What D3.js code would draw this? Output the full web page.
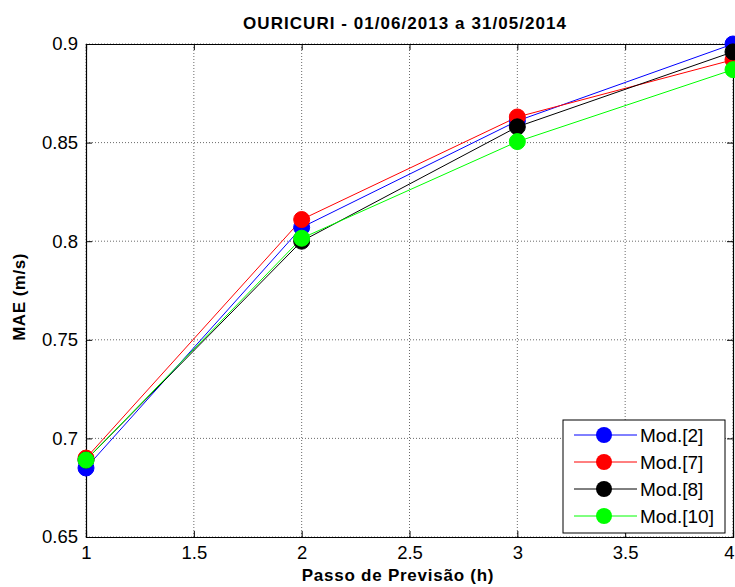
<!DOCTYPE html>
<html><head><meta charset="utf-8">
<script src="https://cdn.jsdelivr.net/npm/d3@7"></script>
<style>body{margin:0;background:#fff}svg{display:block}</style>
</head><body>
<svg id="c" width="735" height="587"></svg>
<script>
const steps = [1, 2, 3, 4];
const seriesNames = ["Mod.[2]", "Mod.[7]", "Mod.[8]", "Mod.[10]"];
const seriesColors = ["#0000ff", "#ff0000", "#000000", "#00ff00"];
const mod2 = [0.685, 0.807, 0.861, 0.900];
const mod7 = [0.690, 0.811, 0.863, 0.892];
const mod8 = [0.689, 0.800, 0.858, 0.896];
const mod10 = [0.689, 0.8015, 0.8505, 0.887];
const xTicks = [1, 1.5, 2, 2.5, 3, 3.5, 4];
const yTicks = [0.65, 0.7, 0.75, 0.8, 0.85, 0.9];
const seriesValues = [mod2, mod7, mod8, mod10];

const svg = d3.select("#c");
const L = 86, R = 733, T = 44, B = 537;
const x = d3.scaleLinear().domain([1, 4]).range([L, R]);
const y = d3.scaleLinear().domain([0.65, 0.9]).range([B, T]);
const font = "'Liberation Sans', Arial, sans-serif";

// grid
const g = svg.append("g");
xTicks.forEach(t => {
  g.append("line").attr("x1", x(t)).attr("x2", x(t)).attr("y1", T).attr("y2", B)
   .attr("stroke", "#444").attr("stroke-width", 0.8).attr("stroke-dasharray", "1,2");
});
yTicks.forEach(t => {
  g.append("line").attr("x1", L).attr("x2", R).attr("y1", y(t)).attr("y2", y(t))
   .attr("stroke", "#444").attr("stroke-width", 0.8).attr("stroke-dasharray", "1,2");
});

// axes
const xAxis = d3.axisBottom(x).tickValues(xTicks).tickSize(-6).tickPadding(9).tickFormat(d3.format("~g"));
const yAxis = d3.axisLeft(y).tickValues(yTicks).tickSize(-6).tickPadding(8).tickFormat(d3.format("~g"));
const xa = svg.append("g").attr("transform", `translate(0,${B})`).call(xAxis);
const ya = svg.append("g").attr("transform", `translate(${L},0)`).call(yAxis);
const xt = svg.append("g").attr("transform", `translate(0,${T})`).call(d3.axisTop(x).tickValues(xTicks).tickSize(-6).tickFormat(""));
const yr = svg.append("g").attr("transform", `translate(${R},0)`).call(d3.axisRight(y).tickValues(yTicks).tickSize(-6).tickFormat(""));
[xa, ya, xt, yr].forEach(a => {
  a.select(".domain").attr("stroke", "#000").attr("stroke-width", 1.2);
  a.selectAll(".tick line").attr("stroke", "#000");
  a.selectAll("text").attr("font-family", font).attr("font-size", 18.5).attr("fill", "#000");
});
// keep the last x tick label inside the frame
xa.selectAll(".tick text").filter(d => d === 4).attr("dx", -4);

// series
const line = d3.line().x((d, i) => x(steps[i])).y(d => y(d));
seriesValues.forEach((vals, k) => {
  svg.append("path").datum(vals).attr("d", line).attr("fill", "none")
    .attr("stroke", seriesColors[k]).attr("stroke-width", 1);
});
seriesValues.forEach((vals, k) => {
  svg.append("g").selectAll("circle").data(vals).join("circle")
    .attr("cx", (d, i) => x(steps[i])).attr("cy", d => y(d)).attr("r", 8)
    .attr("fill", seriesColors[k]).attr("stroke", seriesColors[k]).attr("stroke-width", 1);
});

// legend
const lg = svg.append("g");
lg.append("rect").attr("x", 563).attr("y", 420).attr("width", 162).attr("height", 113)
  .attr("fill", "#fff").attr("stroke", "#000").attr("stroke-width", 1);
seriesNames.forEach((n, k) => {
  const yy = 435 + k * 27;
  lg.append("line").attr("x1", 574).attr("x2", 637).attr("y1", yy).attr("y2", yy)
    .attr("stroke", seriesColors[k]).attr("stroke-width", 1);
  lg.append("circle").attr("cx", 604).attr("cy", yy).attr("r", 8).attr("fill", seriesColors[k]);
  lg.append("text").attr("x", 640).attr("y", yy + 7).text(n)
    .attr("font-family", font).attr("font-size", 19).attr("fill", "#000");
});

// titles
svg.append("text").attr("x", 405).attr("y", 29).attr("text-anchor", "middle")
  .attr("font-family", font).attr("font-size", 17).attr("letter-spacing", 1.05).attr("font-weight", "bold").text("OURICURI - 01/06/2013 a 31/05/2014");
svg.append("text").attr("x", 398).attr("y", 581).attr("text-anchor", "middle")
  .attr("font-family", font).attr("font-size", 17).attr("letter-spacing", 0.75).attr("font-weight", "bold").text("Passo de Previsão (h)");
svg.append("text").attr("transform", "translate(25,297) rotate(-90)").attr("text-anchor", "middle")
  .attr("font-family", font).attr("font-size", 17).attr("letter-spacing", 0.5).attr("font-weight", "bold").text("MAE (m/s)");
</script>
</body></html>
